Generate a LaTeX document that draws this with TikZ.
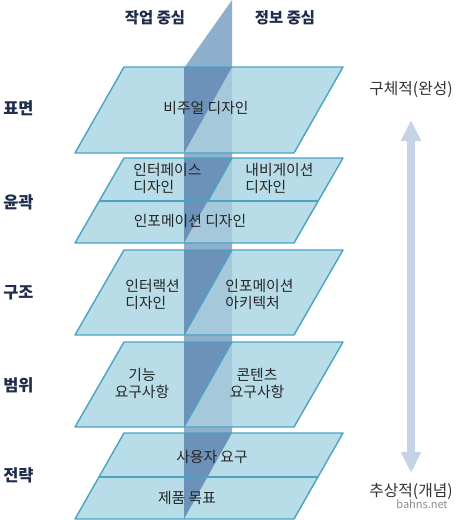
\documentclass[tikz,border=0pt]{standalone}
\usepackage{fontspec}
\setmainfont{Noto Sans CJK KR}
\usetikzlibrary{arrows.meta}

\definecolor{layerfill}{HTML}{B8DDE8}
\definecolor{layeredge}{HTML}{4AA3C2}
\definecolor{planemid}{HTML}{8EB0CC}
\definecolor{planefront}{HTML}{6C92B9}
\definecolor{planeback}{HTML}{A6C8DB}
\definecolor{navy}{HTML}{1F2D4B}
\definecolor{arrowblue}{HTML}{C4D3E6}

% one flat layer, top y and bottom y
\newcommand{\plate}[2]{\fill[layerfill] (124,#1) -- (343,#1) -- (294,#2) -- (75,#2) -- cycle;}
\newcommand{\plateedge}[2]{\draw[edge] (124,#1) -- (343,#1) -- (294,#2) -- (75,#2) -- cycle;}
% the cut plane inside one layer
\newcommand{\cutback}[2]{\fill[planeback] (232,#1) -- (232,#2) -- (184,#2) -- cycle;}
\newcommand{\cutfront}[2]{\fill[planefront] (184,#1) -- (232,#1) -- (184,#2) -- cycle;}

\begin{document}
\begin{tikzpicture}[x=0.5pt,y=-0.5pt,line join=round]
  \tikzstyle{edge}=[draw=layeredge,line width=0.7pt]
  \tikzstyle{cell}=[font=\fontsize{7.4}{8.5}\selectfont,text=black!85,inner sep=0pt]
  \tikzstyle{side}=[font=\bfseries\fontsize{8.2}{9}\selectfont,text=navy,inner sep=0pt]
  \tikzstyle{head}=[font=\bfseries\fontsize{7.7}{9}\selectfont,text=navy,inner sep=0pt]
  \tikzstyle{level}=[font=\fontsize{7.9}{9}\selectfont,text=black!80,inner sep=0pt]

  \useasboundingbox (0,0) rectangle (456,520);

  \fill[planemid] (232,0) -- (232,433) -- (184,519) -- (184,68) -- cycle;

  \plate{67}{153}
  \plate{158}{243}
  \plate{250}{335}
  \plate{342}{427}
  \plate{433}{519}

  \cutback{67}{153}
  \cutback{158}{243}
  \cutback{250}{335}
  \cutback{342}{427}

  \cutfront{67}{153}
  \cutfront{158}{243}
  \cutfront{250}{335}
  \cutfront{342}{427}
  \cutfront{433}{519}

  \plateedge{67}{153}
  \plateedge{158}{243}
  \plateedge{250}{335}
  \plateedge{342}{427}
  \plateedge{433}{519}
  \draw[edge] (99,201) -- (318,201);
  \draw[edge] (232,158) -- (208,201);
  \draw[edge] (232,250) -- (184,335);
  \draw[edge] (232,342) -- (184,427);
  \draw[edge] (99,477) -- (318,477);

  \node[cell] (visual) at (206,108) {비주얼 디자인};
  \node[cell,anchor=west,align=left] (iface) at (133,178) {인터페이스\\디자인};
  \node[cell,anchor=west,align=left] (navi) at (245,178) {내비게이션\\디자인};
  \node[cell] (infod) at (190,221) {인포메이션 디자인};
  \node[cell,anchor=west,align=left] (interact) at (125,294) {인터랙션\\디자인};
  \node[cell,anchor=west,align=left] (ia) at (225,294) {인포메이션\\아키텍처};
  \node[cell,align=center] (func) at (142,383) {기능\\요구사항};
  \node[cell,align=center] (content) at (257,383) {콘텐츠\\요구사항};
  \node[cell] (userneed) at (212,457) {사용자 요구};
  \node[cell] (goal) at (187,498) {제품 목표};

  \node[head] (task) at (155,18) {작업 중심};
  \node[head] (info) at (285,18) {정보 중심};

  \node[side,anchor=west] (surface) at (3,108) {표면};
  \node[side,anchor=west] (skeleton) at (3,202) {윤곽};
  \node[side,anchor=west] (structure) at (3,293) {구조};
  \node[side,anchor=west] (scope) at (3,385) {범위};
  \node[side,anchor=west] (strategy) at (3,475) {전략};

  \node[level] (concrete) at (411,90) {구체적(완성)};
  \node[level] (abstract) at (411,492) {추상적(개념)};
  \node[font=\fontsize{5.5}{6}\selectfont,text=black!45,inner sep=0pt] (site) at (422,504) {bahns.net};

  \coordinate (hi) at (411,120);
  \coordinate (lo) at (411,473);
  \draw[arrowblue,line width=4pt,{Triangle[width=9.5pt,length=10.5pt]}-{Triangle[width=9.5pt,length=10.5pt]}] (hi) -- (lo);
\end{tikzpicture}
\end{document}
